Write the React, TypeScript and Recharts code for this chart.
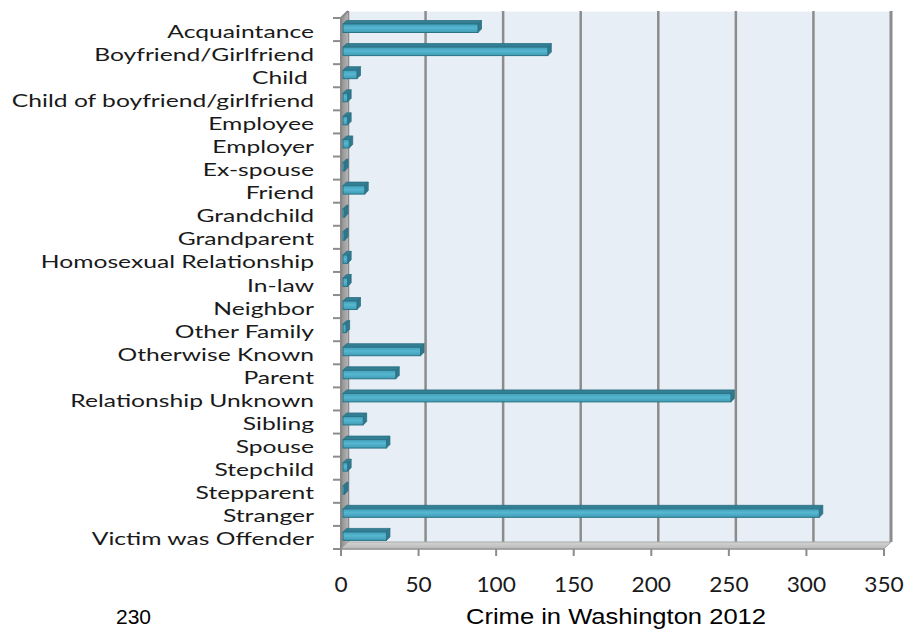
import { BarChart, Bar, XAxis, YAxis, ReferenceArea } from 'recharts'

const relationships = [
  'Acquaintance',
  'Boyfriend/Girlfriend',
  'Child\u00A0',
  'Child of boyfriend/girlfriend',
  'Employee',
  'Employer',
  'Ex-spouse',
  'Friend',
  'Grandchild',
  'Grandparent',
  'Homosexual Relationship',
  'In-law',
  'Neighbor',
  'Other Family',
  'Otherwise Known',
  'Parent',
  'Relationship Unknown',
  'Sibling',
  'Spouse',
  'Stepchild',
  'Stepparent',
  'Stranger',
  'Victim was Offender',
]

const counts = [87, 132, 9, 3, 3, 4, 1, 14, 1, 1, 3, 3, 9, 2, 50, 34, 250, 13, 28, 3, 1, 307, 28]

const xTicks = [0, 50, 100, 150, 200, 250, 300, 350]

const data = relationships.map((name, i) => ({ name, count: counts[i] }))

const LABEL_FONT = 'Lato, "Open Sans", sans-serif'
const DEPTH = 7

// back wall, side wall, floor, gridlines and tick marks of the 3-D plot box
const Walls = (props: any) => {
  const { x, y, width: w, height: h } = props
  if (x == null) return null
  const d = DEPTH
  const max = xTicks[xTicks.length - 1]
  const n = relationships.length
  return (
    <g>
      <defs>
        <linearGradient id="sideWall" x1="0" y1="0" x2="1" y2="0">
          <stop offset="0%" stopColor="#8E8E8E" />
          <stop offset="100%" stopColor="#B4B4B4" />
        </linearGradient>
        <linearGradient id="floorGrad" x1="0" y1="0" x2="0" y2="1">
          <stop offset="0%" stopColor="#D4D4D4" />
          <stop offset="100%" stopColor="#B8B8B8" />
        </linearGradient>
        <linearGradient id="barFront" x1="0" y1="0" x2="0" y2="1">
          <stop offset="0%" stopColor="#3F9FB9" />
          <stop offset="45%" stopColor="#57B7D1" />
          <stop offset="100%" stopColor="#3E9BB4" />
        </linearGradient>
      </defs>
      <rect x={x + d} y={y - d} width={w} height={h} fill="#E8EEF6" />
      <line x1={x + d} y1={y - d + 0.5} x2={x + w + d} y2={y - d + 0.5} stroke="#F4F7FB" />
      {xTicks.map((t) => {
        const gx = x + d + (w * t) / max
        return (
          <line
            key={'g' + t}
            x1={gx}
            y1={y - d}
            x2={gx}
            y2={y + h - d}
            stroke="#8C8C8C"
            strokeWidth={t === max ? 3 : 2.5}
          />
        )
      })}
      <polygon
        points={`${x},${y} ${x + d},${y - d} ${x + d},${y + h - d} ${x},${y + h}`}
        fill="url(#sideWall)"
      />
      <polygon
        points={`${x},${y + h} ${x + d},${y + h - d} ${x + w + d},${y + h - d} ${x + w},${y + h}`}
        fill="url(#floorGrad)"
        stroke="#A8A8A8"
        strokeWidth={1}
      />
      <line x1={x} y1={y + h} x2={x + w} y2={y + h} stroke="#9A9A9A" strokeWidth={1.5} />
      <line x1={x} y1={y} x2={x} y2={y + h} stroke="#888888" strokeWidth={2} />
      <line x1={x} y1={y} x2={x + d} y2={y - d} stroke="#888888" strokeWidth={2} />
      {Array.from({ length: n + 1 }, (_, k) => {
        const ty = y + (h * k) / n
        return <line key={'yt' + k} x1={x - 8} y1={ty} x2={x} y2={ty} stroke="#8C8C8C" strokeWidth={2} />
      })}
      {xTicks.map((t) => {
        const tx = x + (w * t) / max
        return <line key={'xt' + t} x1={tx} y1={y + h} x2={tx} y2={y + h + 7} stroke="#8C8C8C" strokeWidth={2} />
      })}
    </g>
  )
}

const Bar3D = (props: any) => {
  const { x, y, width, height } = props
  if (x == null || width == null) return null
  const k = 3.5
  const fx = x + 2
  const fy = y - 1
  const fw = Math.max(width, 1)
  const fh = height - 0.5
  return (
    <g>
      <polygon
        points={`${fx},${fy} ${fx + k},${fy - k} ${fx + fw + k},${fy - k} ${fx + fw},${fy}`}
        fill="#347F94"
        stroke="#2A7082"
        strokeWidth={0.8}
      />
      <polygon
        points={`${fx + fw},${fy} ${fx + fw + k},${fy - k} ${fx + fw + k},${fy + fh - k} ${fx + fw},${fy + fh}`}
        fill="#2F798D"
        stroke="#2A7082"
        strokeWidth={0.8}
      />
      <rect x={fx} y={fy} width={fw} height={fh} fill="url(#barFront)" stroke="#2B7386" strokeWidth={1} />
    </g>
  )
}

// category labels: the source text is stretched sideways
const CategoryTick = (props: any) => {
  const { x, y, payload } = props
  return (
    <text
      transform={`translate(${x - 1},${y + 8}) scale(1.37,1)`}
      textAnchor="end"
      fontSize={18}
      fontFamily={LABEL_FONT}
      fill="#1A1A1A"
    >
      {payload.value}
    </text>
  )
}

const ValueTick = (props: any) => {
  const { x, y, payload } = props
  return (
    <text
      transform={`translate(${x},${y + 17.7}) scale(1.08,1)`}
      textAnchor="middle"
      fontSize={21}
      fontFamily={LABEL_FONT}
      fill="#1A1A1A"
    >
      {payload.value}
    </text>
  )
}

export default function App() {
  return (
    <div style={{ position: 'relative', width: 916, height: 630, background: '#FFFFFF' }}>
      <style>{'body{margin:0}'}</style>
      <BarChart
        width={916}
        height={630}
        data={data}
        layout="vertical"
        margin={{ top: 18, right: 32, bottom: 51, left: 0 }}
      >
        <XAxis
          type="number"
          domain={[0, 350]}
          ticks={xTicks}
          axisLine={false}
          tickLine={false}
          height={30}
          tickMargin={19}
          tick={<ValueTick />}
        />
        <YAxis
          type="category"
          dataKey="name"
          width={341}
          axisLine={false}
          tickLine={false}
          interval={0}
          tickMargin={20}
          tick={<CategoryTick />}
        />
        <ReferenceArea x1={0} x2={350} shape={<Walls />} ifOverflow="visible" />
        <Bar dataKey="count" barSize={9} shape={<Bar3D />} isAnimationActive={false} />
      </BarChart>
      <svg
        width={916}
        height={630}
        style={{ position: 'absolute', left: 0, top: 0, pointerEvents: 'none' }}
      >
        <text x={116} y={624} fontSize={21} fontFamily='"Liberation Sans", Arial, sans-serif' fill="#000">
          230
        </text>
        <text
          x={466}
          y={624}
          fontSize={22}
          fontFamily='"Liberation Sans", Arial, sans-serif'
          fill="#000"
          textLength={300}
          lengthAdjust="spacingAndGlyphs"
        >
          Crime in Washington 2012
        </text>
      </svg>
    </div>
  )
}
